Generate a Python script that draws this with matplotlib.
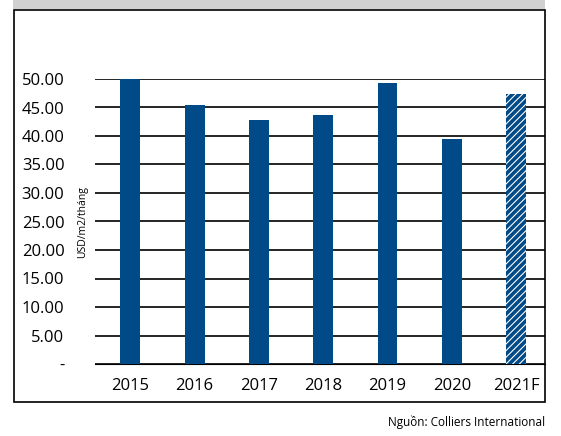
import matplotlib
matplotlib.use("Agg")
import matplotlib.pyplot as plt
from matplotlib.patches import Rectangle

years = ["2015", "2016", "2017", "2018", "2019", "2020", "2021F"]
values = [50.0, 45.5, 42.8, 43.7, 49.3, 39.4, 47.4]
yticks = [0, 5, 10, 15, 20, 25, 30, 35, 40, 45, 50]
ytick_labels = ["-"] + [f"{v:.2f}" for v in yticks[1:]]

plt.rcParams['font.family'] = ['Open Sans', 'DejaVu Sans']
plt.rcParams['hatch.linewidth'] = 2.6
W, H = 561, 436
fig = plt.figure(figsize=(W/100, H/100), dpi=100)
fig.patches.append(Rectangle((13/W, 1-9/H), (545-13)/W, 9/H, transform=fig.transFigure,
                             facecolor='#d0d0d0', edgecolor='none'))
fig.patches.append(Rectangle((14/W, 1-402/H), (545-14)/W, (402-10)/H, transform=fig.transFigure,
                             facecolor='none', edgecolor='black', linewidth=1.2))
ax = fig.add_axes([95/W, 1-364/H, (545-95)/W, (364-79)/H])
color = '#004A87'
x = range(len(years))
bars = ax.bar(x, values, width=0.31, color=color, zorder=3)
last = bars[-1]
last.set_facecolor('white')
last.set_edgecolor(color)
last.set_hatch('/////')
last.set_linewidth(0)
ax.set_ylim(0, 50)
ax.set_xlim(-0.55, 6.45)
ax.set_yticks(yticks)
ax.set_yticklabels(ytick_labels, fontsize=12)
ax.set_xticks(list(x))
ax.set_xticklabels(years, fontsize=12)
ax.grid(axis='y', color='black', linewidth=1.2, zorder=0)
ax.set_axisbelow(True)
for s in ['top', 'right', 'left']:
    ax.spines[s].set_visible(False)
ax.spines['bottom'].set_color('black')
ax.tick_params(length=0, pad=22)
ax.tick_params(axis='x', pad=10)
fig.text(83/W, 1-222/H, "USD/m2/tháng", rotation=90, ha='center', va='center', fontsize=7.5)
fig.text(545/W, 1-422/H, "Nguồn: Colliers International", ha='right', va='center', fontsize=8.5)
fig.savefig("out.png", dpi=100)
